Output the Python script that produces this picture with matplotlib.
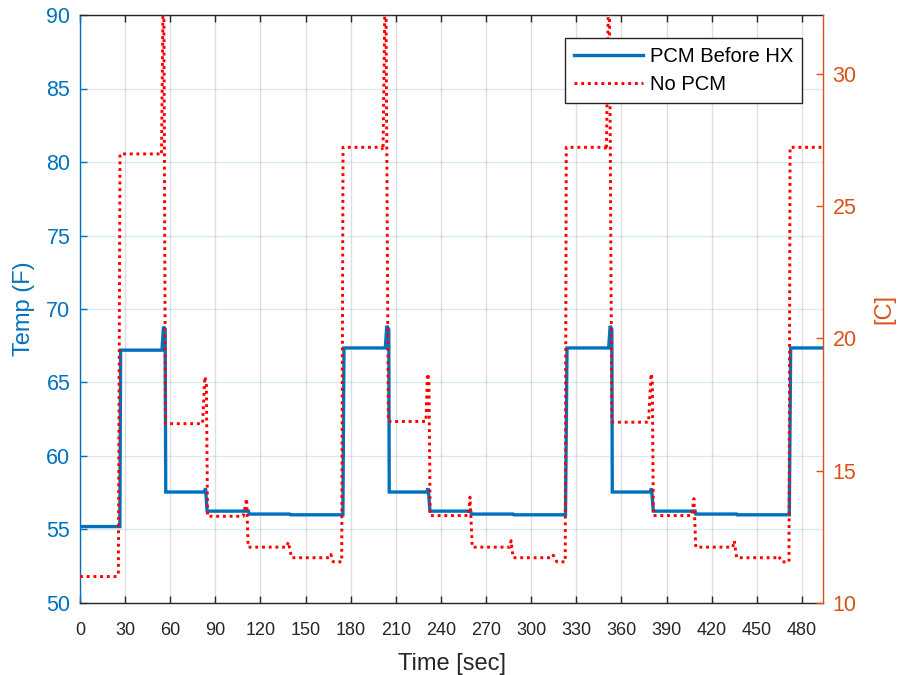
import matplotlib
matplotlib.use("Agg")
import matplotlib.pyplot as plt
from matplotlib import font_manager as fm

# ---------------- data (temperatures in F) ----------------
t_pcm = [0, 26.5, 27.0, 54.5, 55.5, 56.6, 57.0, 82.5, 83.5, 84.5, 112.0, 112.5,
         139.5, 140.0, 174.8,
         175.5, 203.0, 204.0, 205.3, 205.6, 230.5, 231.5, 232.7, 259.7, 260.2,
         288.0, 288.5, 322.8,
         323.8, 351.5, 352.5, 353.6, 353.9, 379.0, 380.0, 381.2, 409.0, 409.5,
         436.6, 437.0, 471.6,
         472.5, 494.0]
T_pcm = [55.2, 55.2, 67.2, 67.2, 68.8, 68.6, 57.55, 57.55, 57.8, 56.25, 56.25, 56.05,
         56.05, 56.0, 56.0,
         67.35, 67.35, 68.85, 68.6, 57.55, 57.55, 57.8, 56.25, 56.25, 56.05,
         56.05, 56.0, 56.0,
         67.35, 67.35, 68.85, 68.6, 57.55, 57.55, 57.8, 56.25, 56.25, 56.05,
         56.05, 56.0, 56.0,
         67.35, 67.35]

t_nopcm = [0, 24.5, 25.5, 26.6, 53.5, 54.2, 55.6, 56.8, 81.5, 83.0, 84.0, 84.8,
           108.5, 110.8, 111.8, 137.4, 138.5, 140.7, 166.0, 166.8, 168.3, 174.0,
           174.9, 200.5, 201.5, 203.2, 205.0, 230.0, 231.0, 232.0, 232.8,
           258.2, 259.3, 260.8, 285.9, 286.6, 288.0, 314.0, 314.7, 317.0, 322.6,
           323.3, 349.0, 350.0, 351.8, 353.6, 378.0, 379.7, 380.5, 381.2,
           406.7, 408.2, 409.4, 434.0, 435.0, 436.6, 463.0, 464.5, 466.5, 471.4,
           472.1, 494.0]
T_nopcm = [51.8, 51.8, 52.0, 80.55, 80.55, 80.5, 95.0, 62.2, 62.2, 65.4, 65.0, 55.9,
           55.9, 57.1, 53.8, 53.8, 54.15, 53.08, 53.08, 53.3, 52.8, 52.8,
           81.0, 81.0, 80.8, 95.0, 62.35, 62.35, 65.6, 65.2, 55.95,
           55.95, 57.2, 53.8, 53.8, 54.24, 53.08, 53.08, 53.25, 52.8, 52.8,
           81.0, 81.0, 80.8, 95.0, 62.3, 62.3, 65.6, 65.2, 55.95,
           55.95, 57.1, 53.8, 53.8, 54.24, 53.08, 53.08, 53.2, 52.8, 52.8,
           81.0, 81.0]

x_ticks = list(range(0, 481, 30))
yF_ticks = [50, 55, 60, 65, 70, 75, 80, 85, 90]
yC_ticks = [10, 15, 20, 25, 30]
series_labels = ["PCM Before HX", "No PCM"]

# ---------------- style ----------------
names = {f.name for f in fm.fontManager.ttflist}
base_font = "Liberation Sans" if "Liberation Sans" in names else "DejaVu Sans"
narrow_font = "Liberation Sans Narrow" if "Liberation Sans Narrow" in names else None
plt.rcParams["font.family"] = [base_font, "DejaVu Sans"]

BLUE = "#0072BD"
ORANGE = "#D95319"
DARK = "#262626"
TICK_FS = 15.5

fig = plt.figure(figsize=(8.97, 6.75), dpi=100)
ax = fig.add_axes([80 / 897, 1 - 603 / 675, 743 / 897, 588 / 675])
ax2 = ax.twinx()

ax.plot(t_pcm, T_pcm, color=BLUE, lw=2.4, solid_joinstyle="miter",
        label=series_labels[0], zorder=3)
ax.plot(t_nopcm, T_nopcm, color="#FF0000", lw=2.1, linestyle=(0, (1, 1.3)),
        dash_capstyle="butt", label=series_labels[1], zorder=4)

ax.set_xlim(0, 494)
ax.set_ylim(50, 90)
ax2.set_ylim(10, (90 - 32) / 1.8)

ax.set_xticks(x_ticks)
ax.set_yticks(yF_ticks)
ax2.set_yticks(yC_ticks)

# grids
ax.xaxis.grid(True, color=DARK, alpha=0.15, lw=1.0)
ax.yaxis.grid(True, color=BLUE, alpha=0.15, lw=1.0)
ax.set_axisbelow(True)

# spines
for s in ax.spines.values():
    s.set_linewidth(1.0)
for s in ax2.spines.values():
    s.set_linewidth(1.0)
ax.spines["left"].set_color(BLUE)
ax.spines["right"].set_visible(False)
ax.spines["top"].set_color(DARK)
ax.spines["bottom"].set_color(DARK)
ax2.spines["right"].set_color(ORANGE)
ax2.spines["left"].set_visible(False)
ax2.spines["top"].set_visible(False)
ax2.spines["bottom"].set_visible(False)

ax.tick_params(axis="x", direction="in", length=5, width=1.0, colors=DARK,
               top=True, pad=14, labelsize=TICK_FS)
ax.tick_params(axis="y", direction="in", length=5, width=1.0, colors=BLUE,
               pad=7, labelsize=TICK_FS)
ax2.tick_params(axis="y", direction="in", length=5, width=1.0, colors=ORANGE,
                pad=7, labelsize=TICK_FS)
if narrow_font:
    for lab in ax.get_xticklabels():
        lab.set_family([narrow_font, "DejaVu Sans"])
else:
    for lab in ax.get_xticklabels():
        lab.set_fontsize(13)

ax.set_xlabel("Time [sec]", fontsize=17, color=DARK, labelpad=10)
ax.set_ylabel("Temp (F)", fontsize=17, color=BLUE, labelpad=8)
ax2.set_ylabel("[C]", fontsize=17, color=ORANGE, labelpad=12)

h, l = ax.get_legend_handles_labels()
leg = ax2.legend(h, l, loc="upper right",
                 bbox_to_anchor=((802 - 80) / 743, (603 - 38) / 588),
                 borderaxespad=0, fontsize=14.5, frameon=True, fancybox=False,
                 edgecolor=DARK, framealpha=1, handlelength=3.4,
                 handletextpad=0.35, labelspacing=0.45, borderpad=0.45)
leg.get_frame().set_linewidth(1.0)

fig.savefig("out.png", dpi=100)
